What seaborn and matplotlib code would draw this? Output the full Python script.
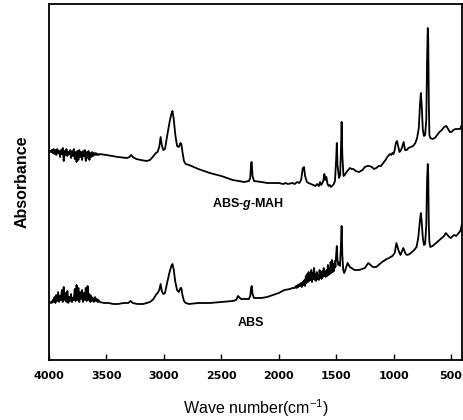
import matplotlib
matplotlib.use("Agg")
import matplotlib.pyplot as plt
import seaborn as sns
import pandas as pd

# ---- FTIR spectrum: ABS-g-MAH (upper trace) ----
wn_mah = [4000, 3992, 3984, 3976, 3968, 3960, 3952, 3944, 3936, 3928, 3920, 3912, 3904, 3896, 3888,
          3880, 3872, 3864, 3856, 3848, 3840, 3832, 3824, 3816, 3808, 3800, 3792, 3784, 3776, 3768,
          3760, 3752, 3744, 3736, 3728, 3720, 3712, 3704, 3696, 3688, 3680, 3672, 3664, 3656, 3648,
          3640, 3632, 3624, 3616, 3608, 3600, 3592, 3584, 3576, 3568, 3560,
          3500, 3400, 3320, 3300, 3285, 3270, 3240, 3200, 3150, 3120, 3090, 3070, 3055, 3040, 3028,
          3018, 3005, 2990, 2970, 2950, 2935, 2925, 2915, 2900, 2885, 2870, 2855, 2848, 2838, 2825,
          2810, 2780, 2700, 2600, 2500, 2400, 2300, 2260, 2248, 2240, 2235, 2228, 2215, 2150, 2100,
          2050, 2000, 1960, 1940, 1920, 1880, 1860, 1840, 1820, 1805, 1790, 1780, 1770, 1755, 1740,
          1720, 1700, 1680, 1665, 1650, 1640, 1630, 1620, 1612, 1602, 1595, 1585, 1575, 1565, 1555,
          1545, 1535, 1520, 1510, 1500, 1494, 1488, 1475, 1465, 1458, 1452, 1446, 1436, 1425, 1410,
          1395, 1380, 1365, 1350, 1330, 1300, 1270, 1250, 1230, 1210, 1190, 1170, 1150, 1130, 1110,
          1090, 1070, 1055, 1040, 1030, 1020, 1010, 1000, 990, 980, 970, 960, 948, 935, 925,
          912, 900, 885, 870, 850, 830, 810, 795, 780, 770, 762, 755, 745, 735, 725,
          715, 708, 702, 698, 693, 688, 680, 660, 640, 620, 600, 580, 560, 540, 525,
          510, 495, 480, 460, 440, 420, 410, 403]
ab_mah = [2.09, 2.09, 2.08, 2.10, 2.07, 2.11, 2.06, 2.10, 2.05, 2.11, 2.07, 2.09, 2.03, 2.10, 2.06,
          2.12, 1.99, 2.09, 2.05, 2.11, 2.04, 2.08, 2.06, 2.10, 2.02, 2.09, 2.04, 2.11, 2.01, 2.08,
          1.98, 2.09, 2.00, 2.10, 2.03, 2.08, 2.00, 2.09, 2.04, 2.10, 1.99, 2.08, 2.02, 2.09, 2.00,
          2.07, 2.03, 2.08, 2.04, 2.07, 2.05, 2.07, 2.05, 2.06, 2.05, 2.06,
          2.05, 2.03, 2.02, 2.03, 2.05, 2.03, 2.01, 2.00, 1.99, 2.00, 2.04, 2.07, 2.08, 2.13, 2.23,
          2.15, 2.10, 2.11, 2.25, 2.38, 2.46, 2.49, 2.42, 2.25, 2.14, 2.13, 2.17, 2.16, 2.08, 1.99,
          1.96, 1.95, 1.91, 1.87, 1.84, 1.80, 1.78, 1.79, 1.82, 1.97, 1.98, 1.84, 1.79, 1.78, 1.77,
          1.77, 1.77, 1.76, 1.77, 1.76, 1.77, 1.76, 1.78, 1.77, 1.80, 1.92, 1.93, 1.84, 1.78, 1.77,
          1.76, 1.75, 1.74, 1.76, 1.74, 1.78, 1.75, 1.77, 1.79, 1.86, 1.80, 1.83, 1.76, 1.74, 1.75,
          1.73, 1.74, 1.76, 1.79, 2.00, 2.17, 1.95, 1.82, 1.85, 2.10, 2.38, 2.05, 1.84, 1.85, 1.88,
          1.90, 1.92, 1.91, 1.91, 1.89, 1.88, 1.90, 1.93, 1.94, 1.94, 1.93, 1.91, 1.92, 1.94, 1.94,
          1.97, 2.00, 2.03, 2.05, 2.06, 2.05, 2.07, 2.06, 2.10, 2.17, 2.19, 2.14, 2.08, 2.10, 2.13,
          2.18, 2.10, 2.10, 2.12, 2.13, 2.14, 2.17, 2.22, 2.32, 2.55, 2.67, 2.55, 2.30, 2.24, 2.25,
          2.40, 3.00, 3.32, 3.20, 2.60, 2.25, 2.22, 2.21, 2.22, 2.25, 2.28, 2.30, 2.33, 2.34, 2.31,
          2.28, 2.28, 2.30, 2.31, 2.31, 2.31, 2.34, 2.30]

# ---- FTIR spectrum: ABS (lower trace) ----
wn_abs = [4000, 3992, 3984, 3976, 3968, 3960, 3952, 3944, 3936, 3928, 3920, 3912, 3904, 3896, 3888,
          3880, 3872, 3864, 3856, 3848, 3840, 3832, 3824, 3816, 3808, 3800, 3792, 3784, 3776, 3768,
          3760, 3752, 3744, 3736, 3728, 3720, 3712, 3704, 3696, 3688, 3680, 3672, 3664, 3656, 3648,
          3640, 3632, 3624, 3616, 3608, 3600, 3592, 3584, 3576, 3568, 3560,
          3520, 3480, 3440, 3400, 3350, 3310, 3290, 3270, 3230, 3180, 3150, 3120, 3090, 3070, 3055,
          3040, 3028, 3018, 3005, 2990, 2970, 2950, 2935, 2925, 2915, 2900, 2885, 2870, 2855, 2848,
          2838, 2825, 2810, 2780, 2700, 2600, 2500, 2400, 2370, 2355, 2345, 2330, 2300, 2260, 2248,
          2240, 2235, 2228, 2215, 2150, 2100, 2050, 2000, 1950, 1900, 1880,
          1860, 1850, 1842, 1835, 1828, 1820, 1812, 1805, 1798, 1790, 1783, 1776, 1770, 1764, 1758,
          1752, 1746, 1740, 1734, 1728, 1722, 1716, 1710, 1704, 1698, 1692, 1686, 1680, 1674, 1668,
          1662, 1656, 1650, 1644, 1638, 1632, 1626, 1620, 1614, 1608, 1602, 1596, 1590, 1584, 1578,
          1572, 1566, 1560, 1554, 1548, 1542, 1536, 1530, 1524, 1518, 1512, 1506, 1500, 1494, 1488,
          1480, 1474, 1466, 1460, 1452, 1446, 1438, 1430, 1420, 1400, 1380, 1340, 1300, 1250, 1220,
          1180, 1150, 1100, 1060, 1040, 1010, 990, 975, 955, 940, 915, 895, 880, 860, 840,
          820, 800, 785, 770, 762, 755, 745, 735, 725, 715, 708, 702, 698, 693, 688,
          680, 660, 640, 620, 600, 580, 560, 545, 530, 515, 500, 485, 470, 455, 440,
          425, 415, 405, 402]
ab_abs = [0.57, 0.57, 0.58, 0.57, 0.60, 0.58, 0.63, 0.57, 0.65, 0.59, 0.68, 0.58, 0.64, 0.60, 0.70,
          0.58, 0.73, 0.60, 0.67, 0.58, 0.69, 0.57, 0.63, 0.59, 0.66, 0.58, 0.62, 0.60, 0.71, 0.59,
          0.75, 0.60, 0.72, 0.58, 0.68, 0.61, 0.70, 0.58, 0.67, 0.60, 0.72, 0.59, 0.74, 0.60, 0.66,
          0.58, 0.64, 0.59, 0.62, 0.58, 0.63, 0.59, 0.61, 0.58, 0.60, 0.58,
          0.57, 0.57, 0.56, 0.56, 0.57, 0.57, 0.59, 0.57, 0.56, 0.56, 0.57, 0.58, 0.61, 0.65, 0.67,
          0.70, 0.76, 0.69, 0.66, 0.67, 0.78, 0.88, 0.94, 0.96, 0.91, 0.78, 0.70, 0.68, 0.72, 0.72,
          0.65, 0.59, 0.57, 0.56, 0.57, 0.57, 0.58, 0.59, 0.60, 0.64, 0.63, 0.61, 0.61, 0.61, 0.64,
          0.72, 0.74, 0.66, 0.62, 0.62, 0.63, 0.65, 0.67, 0.70, 0.71, 0.72,
          0.72, 0.74, 0.72, 0.75, 0.73, 0.76, 0.74, 0.77, 0.73, 0.78, 0.75, 0.80, 0.74, 0.84, 0.77,
          0.86, 0.78, 0.88, 0.79, 0.85, 0.80, 0.90, 0.78, 0.87, 0.81, 0.92, 0.80, 0.86, 0.79, 0.88,
          0.81, 0.85, 0.80, 0.90, 0.82, 0.87, 0.81, 0.89, 0.83, 0.92, 0.84, 0.88, 0.83, 0.90, 0.84,
          0.95, 0.85, 0.92, 0.86, 0.98, 0.87, 1.00, 0.88, 0.96, 0.89, 0.99, 0.93, 1.05, 1.14, 1.00,
          0.95, 0.97, 0.94, 1.10, 1.34, 1.05, 0.90, 0.87, 0.90, 0.97, 0.93, 0.90, 0.90, 0.92, 0.97,
          0.93, 0.93, 0.98, 1.01, 1.02, 1.04, 1.07, 1.17, 1.09, 1.05, 1.12, 1.06, 1.05, 1.06, 1.08,
          1.10, 1.13, 1.22, 1.40, 1.47, 1.38, 1.22, 1.15, 1.16, 1.35, 1.80, 1.96, 1.85, 1.35, 1.18,
          1.13, 1.14, 1.16, 1.18, 1.20, 1.22, 1.24, 1.27, 1.25, 1.23, 1.22, 1.24, 1.25, 1.24, 1.26,
          1.28, 1.30, 1.36, 1.32]

x_ticks = [4000, 3500, 3000, 2500, 2000, 1500, 1000, 500]

sns.set_style("white")
plt.rcParams["font.family"] = ["Liberation Sans", "DejaVu Sans"]
plt.rcParams["text.color"] = "black"
plt.rcParams["axes.labelcolor"] = "black"
plt.rcParams["xtick.color"] = "black"
plt.rcParams["mathtext.fontset"] = "custom"
plt.rcParams["mathtext.rm"] = "Liberation Sans"
plt.rcParams["mathtext.it"] = "Liberation Sans:italic:bold"

fig = plt.figure(figsize=(4.63, 4.2), dpi=100)
ax = fig.add_axes([49 / 463, 1 - 360 / 420, 413 / 463, 356 / 420])

df_mah = pd.DataFrame({"wn": wn_mah, "ab": ab_mah})
df_abs = pd.DataFrame({"wn": wn_abs, "ab": ab_abs})
sns.lineplot(data=df_mah, x="wn", y="ab", ax=ax, color="black", lw=1.3,
             estimator=None, sort=False)
sns.lineplot(data=df_abs, x="wn", y="ab", ax=ax, color="black", lw=1.3,
             estimator=None, sort=False)

ax.set_xlim(4000, 404)
ax.set_ylim(0, 3.56)
ax.set_xticks(x_ticks)
ax.set_xticklabels([str(t) for t in x_ticks], fontfamily="Liberation Sans Narrow",
                   fontweight="bold", fontsize=8)
ax.set_yticks([])
ax.tick_params(axis="x", direction="in", length=4, width=1.0, pad=8, bottom=True)
for sp in ax.spines.values():
    sp.set_visible(True)
    sp.set_color("black")
    sp.set_linewidth(1.3)

ax.set_xlabel("Wave number(cm$^{-1}$)", fontsize=11.5, labelpad=12)
ax.set_ylabel("Absorbance", fontsize=11.5, fontweight="bold", labelpad=14)

ax.text(2267, 1.56, "ABS-$g$-MAH", ha="center", va="center", fontsize=9, fontweight="bold")
ax.text(2241, 0.37, "ABS", ha="center", va="center", fontsize=9, fontweight="bold")

fig.savefig("out.png", dpi=100)
